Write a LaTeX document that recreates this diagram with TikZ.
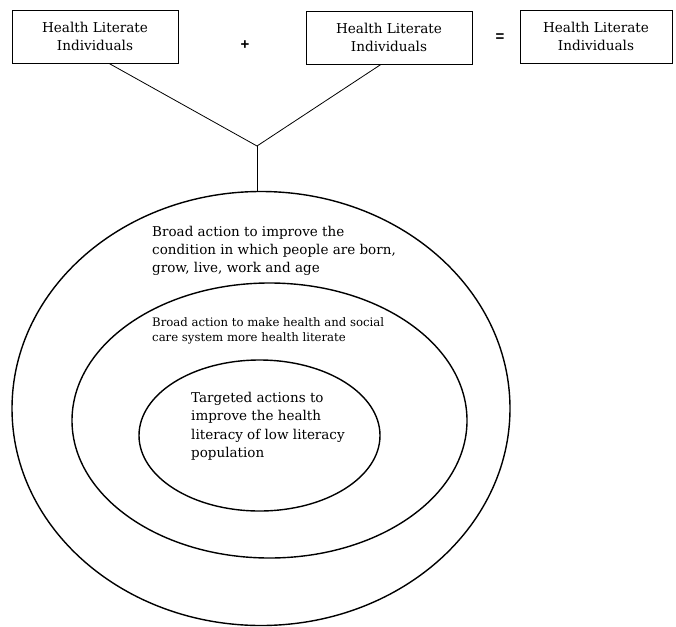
\documentclass[tikz,border=0pt]{standalone}
\usepackage{fontspec}
\setmainfont{DejaVu Serif}
\newfontfamily\opfont{Liberation Sans}
\usetikzlibrary{shapes.geometric, positioning, calc}
\tikzset{
    % Boxes
    litbox/.style={rectangle, draw, line width=0.8pt, minimum width=166pt,
                   minimum height=53pt, align=center, inner sep=2pt,
                   font=\fontsize{13.6}{18}\selectfont},
    % Rings
    ring/.style={ellipse, draw, line width=1.4pt, inner sep=0pt},
    ringtext/.style={align=left, anchor=north west, inner sep=0pt},
    % Operators & lines
    op/.style={font=\opfont\bfseries\fontsize{15}{15}\selectfont},
    link/.style={line width=0.8pt}
}

\begin{document}
\begin{tikzpicture}[x=1pt, y=-1pt]
\useasboundingbox (0,0) rectangle (676,626);

\node[litbox] (lit1) at (95,36.5) {Health Literate\\Individuals};
\node[litbox] (lit2) at (389,37.5) {Health Literate\\Individuals};
\node[litbox, minimum width=152pt] (lit3) at (596,36.5) {Health Literate\\Individuals};
\node[op] (plus) at (245,45) {+};
\node[op] (equals) at (500,38) {=};

\node[ring, minimum width=498pt, minimum height=434pt] (outer) at (261,408.5) {};
\node[ring, minimum width=395pt, minimum height=275pt] (middle) at (269.5,420.5) {};
\node[ring, minimum width=241pt, minimum height=151pt] (inner) at (259.5,435.5) {};

\node[ringtext, font=\fontsize{13.5}{17.8}\selectfont] (outertext) at (152,226)
    {Broad action to improve the\\condition in which people are born,\\grow, live, work and age};
\node[ringtext, font=\fontsize{11.7}{15}\selectfont] (middletext) at (152,317)
    {Broad action to make health and social\\care system more health literate};
\node[ringtext, font=\fontsize{13.5}{18.3}\selectfont] (innertext) at (191,392)
    {Targeted actions to\\improve the health\\literacy of low literacy\\population};

\coordinate (join) at (257,146);
\draw[link] ([xshift=14pt]lit1.south) -- (join);
\draw[link] ([xshift=-8pt]lit2.south) -- (join);
\draw[link] (join) -- (join |- outer.north);

\end{tikzpicture}
\end{document}
